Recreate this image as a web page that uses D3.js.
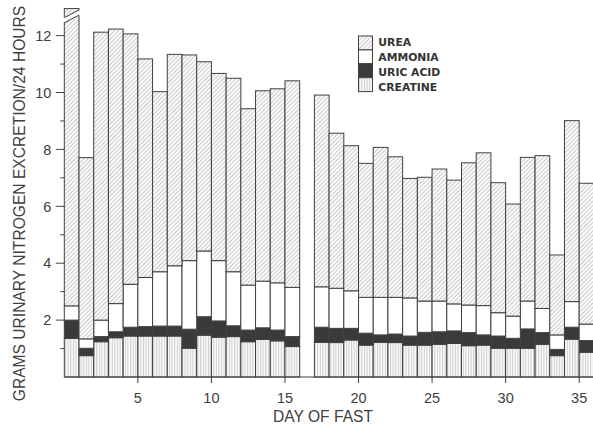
<!DOCTYPE html>
<html>
<head>
<meta charset="utf-8">
<script src="https://cdn.jsdelivr.net/npm/d3@7"></script>
<style>
  html, body { margin: 0; padding: 0; background: #ffffff; }
  svg { display: block; }
</style>
</head>
<body>
<svg id="chart" width="593" height="426"></svg>
<script>
// ---- data (grams urinary nitrogen / 24 h, per component) ----
const days     = [1,2,3,4,5,6,7,8,9,10,11,12,13,14,15,16,18,19,20,21,22,23,24,25,26,27,28,29,30,31,32,33,34,35,36];
const creatine = [1.36,0.75,1.24,1.38,1.44,1.44,1.44,1.44,1.01,1.47,1.40,1.42,1.24,1.32,1.27,1.07,1.22,1.21,1.30,1.12,1.22,1.21,1.12,1.12,1.15,1.18,1.10,1.12,1.01,1.01,1.01,1.15,0.75,1.33,0.87];
const uricAcid = [0.64,0.26,0.18,0.21,0.31,0.33,0.35,0.35,0.67,0.65,0.57,0.38,0.41,0.41,0.38,0.35,0.53,0.50,0.41,0.42,0.26,0.30,0.32,0.45,0.44,0.44,0.46,0.36,0.43,0.35,0.68,0.41,0.22,0.42,0.41];
const ammonia  = [0.50,0.33,0.58,0.99,1.51,1.73,1.91,2.12,2.41,2.31,2.12,1.90,1.58,1.64,1.66,1.73,1.42,1.41,1.32,1.26,1.32,1.29,1.34,1.10,1.08,0.95,0.97,1.03,0.82,0.78,0.98,0.85,0.51,0.90,0.58];
const urea     = [10.45,6.37,10.12,9.65,8.80,7.68,6.33,7.43,7.23,6.65,6.58,6.80,6.20,6.69,6.82,7.26,6.74,5.45,5.10,4.71,5.27,4.94,4.20,4.35,4.64,4.35,5.00,5.37,4.57,3.94,5.05,5.37,2.81,6.36,4.95];
const brokenDay = 1;               // bar drawn with an axis break
const yMajorTicks = [2,4,6,8,10,12];
const yMinorTicks = [1,3,5,7,9,11];
const xTicks = [5,10,15,20,25,30,35];
const legendKeys   = ["urea","ammonia","uric","creatine"];
const legendLabels = ["UREA","AMMONIA","URIC ACID","CREATINE"];
const xTitle = "DAY OF FAST";
const yTitle = "GRAMS URINARY NITROGEN EXCRETION/24 HOURS";

// ---- build table ----
const table = days.map((d,i) => ({day:d, creatine:creatine[i], uric:uricAcid[i], ammonia:ammonia[i], urea:urea[i]}));
const keys = ["creatine","uric","ammonia","urea"];
const series = d3.stack().keys(keys)(table);

const svg = d3.select("#chart");
const ink = "#404040";
const x = d3.scaleLinear().domain([0,36]).range([64.3, 593.9]);
const y = d3.scaleLinear().domain([0,13]).range([377, 377 - 13*28.45]);

// ---- patterns ----
const defs = svg.append("defs");
const pUrea = defs.append("pattern").attr("id","p-urea").attr("patternUnits","userSpaceOnUse")
  .attr("width",3).attr("height",3).attr("patternTransform","rotate(45)");
pUrea.append("rect").attr("width",3).attr("height",3).attr("fill","#fcfcfc");
pUrea.append("line").attr("x1",0.5).attr("y1",0).attr("x2",0.5).attr("y2",3)
  .attr("stroke","#b4b4b4").attr("stroke-width",0.7);
const pCre = defs.append("pattern").attr("id","p-creatine").attr("patternUnits","userSpaceOnUse")
  .attr("width",2.6).attr("height",4);
pCre.append("rect").attr("width",2.6).attr("height",4).attr("fill","#fbfbfb");
pCre.append("line").attr("x1",0.6).attr("y1",0).attr("x2",0.6).attr("y2",4)
  .attr("stroke","#b0b0b0").attr("stroke-width",0.7);

const fills = {creatine:"url(#p-creatine)", uric:"#3a3a3a", ammonia:"#ffffff", urea:"url(#p-urea)"};

// ---- bars ----
const g = svg.append("g");
series.forEach(s => {
  g.append("g").selectAll("rect").data(s).join("rect")
    .attr("x", d => x(d.data.day - 1))
    .attr("width", d => x(d.data.day) - x(d.data.day - 1))
    .attr("y", d => y(d[1]))
    .attr("height", d => y(d[0]) - y(d[1]))
    .attr("fill", fills[s.key])
    .attr("stroke", ink)
    .attr("stroke-width", 1);
});

// ---- axis break on day 1 ----
const bx0 = x(brokenDay - 1) - 1.5, bx1 = x(brokenDay) + 1.5;
const upperL = 12.63, upperR = 12.90, lowerL = 12.45, lowerR = 12.72;
svg.append("polygon")
  .attr("points", [[bx0, y(upperL)],[bx1, y(upperR)],[bx1, y(lowerR)],[bx0, y(lowerL)]].map(p => p.join(",")).join(" "))
  .attr("fill","#ffffff");
svg.append("line").attr("x1", x(brokenDay-1)).attr("y1", y(upperL)).attr("x2", x(brokenDay)).attr("y2", y(upperR))
  .attr("stroke", ink).attr("stroke-width",1);
svg.append("line").attr("x1", x(brokenDay-1)).attr("y1", y(lowerL)).attr("x2", x(brokenDay)).attr("y2", y(lowerR))
  .attr("stroke", ink).attr("stroke-width",1);

// ---- x axis ----
svg.append("line").attr("x1", x(0)).attr("x2", x(36)).attr("y1", y(0)).attr("y2", y(0))
  .attr("stroke", ink).attr("stroke-width", 1.2);
const xt = svg.append("g").selectAll("g").data(xTicks).join("g");
xt.append("line").attr("x1", d => x(d)).attr("x2", d => x(d)).attr("y1", y(0)).attr("y2", y(0) + 6)
  .attr("stroke", ink).attr("stroke-width", 1);
xt.append("text").attr("x", d => x(d)).attr("y", y(0) + 25.5).attr("text-anchor","middle")
  .attr("font-family","'Liberation Sans', Arial, sans-serif").attr("font-size",14.5).attr("fill",ink)
  .text(d => d);

// ---- y axis ----
const yt = svg.append("g").selectAll("g").data(yMajorTicks).join("g");
yt.append("line").attr("x1", x(0) - 8.5).attr("x2", x(0)).attr("y1", d => y(d)).attr("y2", d => y(d))
  .attr("stroke", ink).attr("stroke-width", 1);
yt.append("text").attr("x", x(0) - 13).attr("y", d => y(d)).attr("dy","0.36em").attr("text-anchor","end")
  .attr("font-family","'Liberation Sans', Arial, sans-serif").attr("font-size",14.5).attr("fill",ink)
  .text(d => d);
svg.append("g").selectAll("line").data(yMinorTicks).join("line")
  .attr("x1", x(0) - 4).attr("x2", x(0)).attr("y1", d => y(d)).attr("y2", d => y(d))
  .attr("stroke", ink).attr("stroke-width", 1);

// ---- titles ----
svg.append("text").attr("x", 323).attr("y", 421.5).attr("text-anchor","middle")
  .attr("font-family","'Liberation Sans', Arial, sans-serif").attr("font-size",15.6).attr("fill",ink)
  .text(xTitle);
svg.append("text").attr("transform","translate(24.8,203.5) rotate(-90)").attr("text-anchor","middle")
  .attr("font-family","'Liberation Sans', Arial, sans-serif").attr("font-size",15.6).attr("fill",ink)
  .text(yTitle);

// ---- legend ----
const lg = svg.append("g");
legendKeys.forEach((k,i) => {
  lg.append("rect").attr("x",358.5).attr("y",36 + i*13.9).attr("width",14).attr("height",13.9)
    .attr("fill", fills[k]).attr("stroke", ink).attr("stroke-width",1);
  lg.append("text").attr("x",378.3).attr("y",42 + i*15.1).attr("dy","0.36em")
    .attr("font-family","'DejaVu Sans', sans-serif").attr("font-weight","bold").attr("font-size",10.8)
    .attr("fill", "#333333").text(legendLabels[i]);
});
</script>
</body>
</html>
